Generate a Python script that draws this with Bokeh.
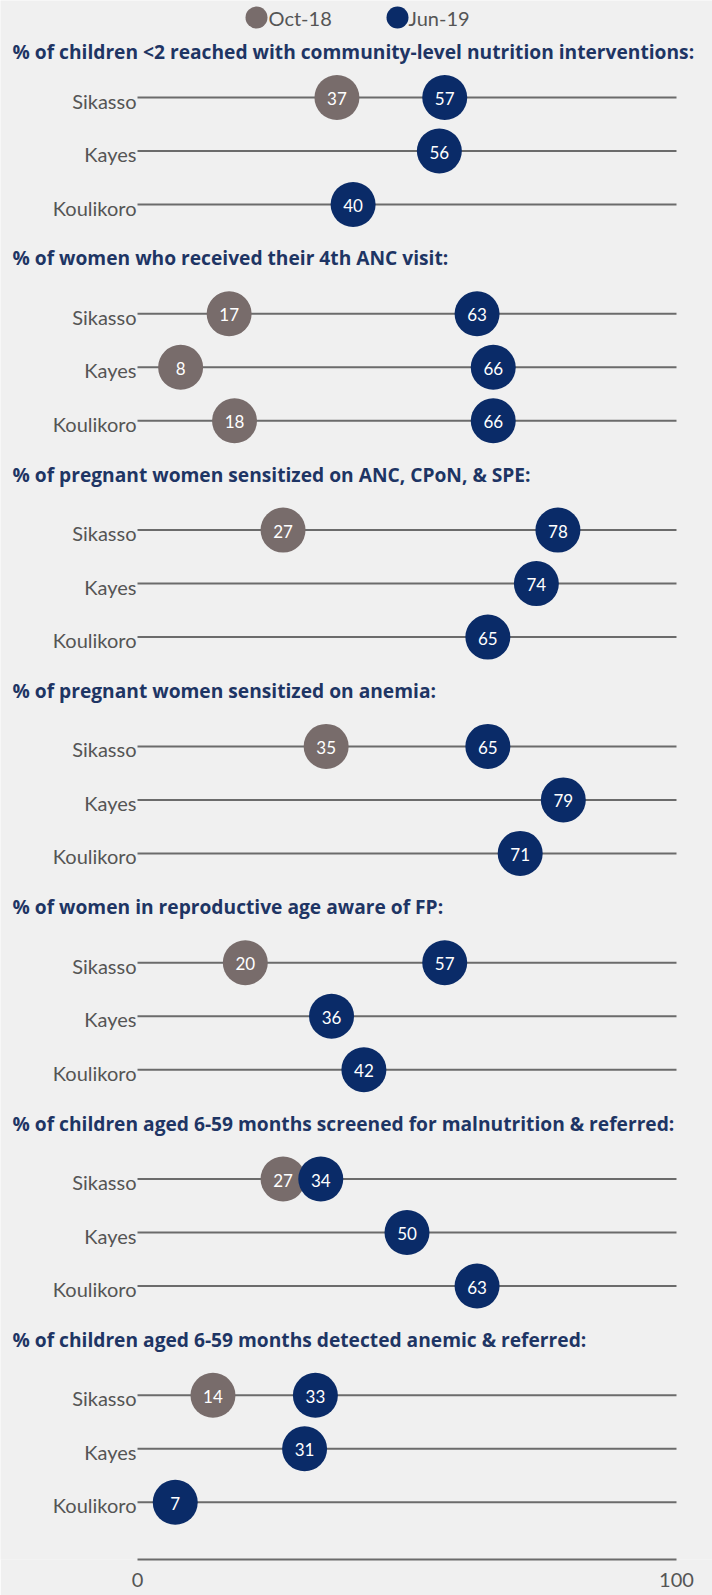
from bokeh.plotting import figure
from bokeh.models import Range1d, FixedTicker
from bokeh.core.properties import value
from bokeh.embed import file_html
from bokeh.resources import INLINE

# ---------------- data ----------------
titles = [
    "% of children <2 reached with community-level nutrition interventions:",
    "% of women who received their 4th ANC visit:",
    "% of pregnant women sensitized on ANC, CPoN, & SPE:",
    "% of pregnant women sensitized on anemia:",
    "% of women in reproductive age aware of FP:",
    "% of children aged 6-59 months screened for malnutrition & referred:",
    "% of children aged 6-59 months detected anemic & referred:",
]
regions = ["Sikasso", "Kayes", "Koulikoro"]
oct18 = [
    [37, None, None],
    [17, 8, 18],
    [27, None, None],
    [35, None, None],
    [20, None, None],
    [27, None, None],
    [14, None, None],
]
jun19 = [
    [57, 56, 40],
    [63, 66, 66],
    [78, 74, 65],
    [65, 79, 71],
    [57, 36, 42],
    [34, 50, 63],
    [33, 31, 7],
]
series_names = ["Oct-18", "Jun-19"]
tick_values = [0, 100]
tick_labels = ["0", "100"]

# ---------------- style / layout ----------------
W, H = 712, 1595
FRAME_H = 1559
X0, X1 = -25.42, 106.68
BG = "#f0f0f0"
NAVY = "#0a2b68"
GREY_DOT = "#786c6b"
LINE = "#6b6b6b"
LABEL = "#555555"
TITLE = "#1e3564"
FONT = "Lato"
TITLE_FONT = "Open Sans"

ROW0, SEC, ROW = 97.0, 216.3, 53.5


def xd(px):
    """frame pixel -> data x"""
    return X0 + px * (X1 - X0) / W


p = figure(width=W, height=H, x_range=Range1d(X0, X1), y_range=Range1d(FRAME_H, 0),
           output_backend="svg", toolbar_location=None, y_axis_location=None,
           min_border=0, min_border_bottom=H - FRAME_H,
           background_fill_color=BG, border_fill_color=BG,
           outline_line_color=None)
p.grid.visible = False

row_y, row_lab = [], []
oct_x, oct_y, oct_t = [], [], []
jun_x, jun_y, jun_t = [], [], []
title_y = []
for i in range(len(titles)):
    base = ROW0 + i * SEC
    title_y.append(base - (46 if i == 0 else 56))
    for j, r in enumerate(regions):
        y = base + j * ROW
        row_y.append(y)
        row_lab.append(r)
        if oct18[i][j] is not None:
            oct_x.append(oct18[i][j]); oct_y.append(y); oct_t.append(str(oct18[i][j]))
        if jun19[i][j] is not None:
            jun_x.append(jun19[i][j]); jun_y.append(y); jun_t.append(str(jun19[i][j]))

# lines
p.segment(x0=0, y0=row_y, x1=100, y1=row_y, line_color=LINE, line_width=2)
# region labels
p.text(x=0, y=row_y, text=row_lab, text_align="right", text_baseline="alphabetic",
       x_offset=-1, y_offset=3, text_font=value(FONT), text_font_size="20px",
       text_color=LABEL)
# dots
p.scatter(x=oct_x, y=oct_y, size=45, fill_color=GREY_DOT, line_color=None)
p.text(x=oct_x, y=oct_y, text=oct_t, text_align="center", text_baseline="middle",
       y_offset=1, text_font=value(FONT), text_font_size="17px", text_color="white")
p.scatter(x=jun_x, y=jun_y, size=45, fill_color=NAVY, line_color=None)
p.text(x=jun_x, y=jun_y, text=jun_t, text_align="center", text_baseline="middle",
       y_offset=1, text_font=value(FONT), text_font_size="17px", text_color="white")

# section titles
p.text(x=xd(12), y=title_y, text=titles, text_align="left", text_baseline="middle",
       text_font=value(TITLE_FONT), text_font_size="19.2px", text_font_style="bold",
       text_color=TITLE)

# legend
LEG_Y = 17
p.scatter(x=[xd(256), xd(397)], y=[LEG_Y, LEG_Y], size=22,
          fill_color=[GREY_DOT, NAVY], line_color=None)
p.text(x=[xd(268), xd(408)], y=[LEG_Y, LEG_Y], text=series_names, text_align="left",
       text_baseline="middle", text_font=value(FONT), text_font_size="20px",
       text_color=LABEL)

# x axis
ax = p.xaxis[0]
ax.ticker = FixedTicker(ticks=tick_values)
ax.major_label_overrides = {v: t for v, t in zip(tick_values, tick_labels)}
ax.bounds = (0, 100)
ax.axis_line_color = LINE
ax.axis_line_width = 2
ax.major_tick_line_color = None
ax.minor_tick_line_color = None
ax.major_tick_out = 0
ax.major_tick_in = 0
ax.major_label_standoff = 13
ax.major_label_text_font = FONT
ax.major_label_text_font_size = "20px"
ax.major_label_text_color = LABEL

open("out.html", "w").write(file_html(p, INLINE))
